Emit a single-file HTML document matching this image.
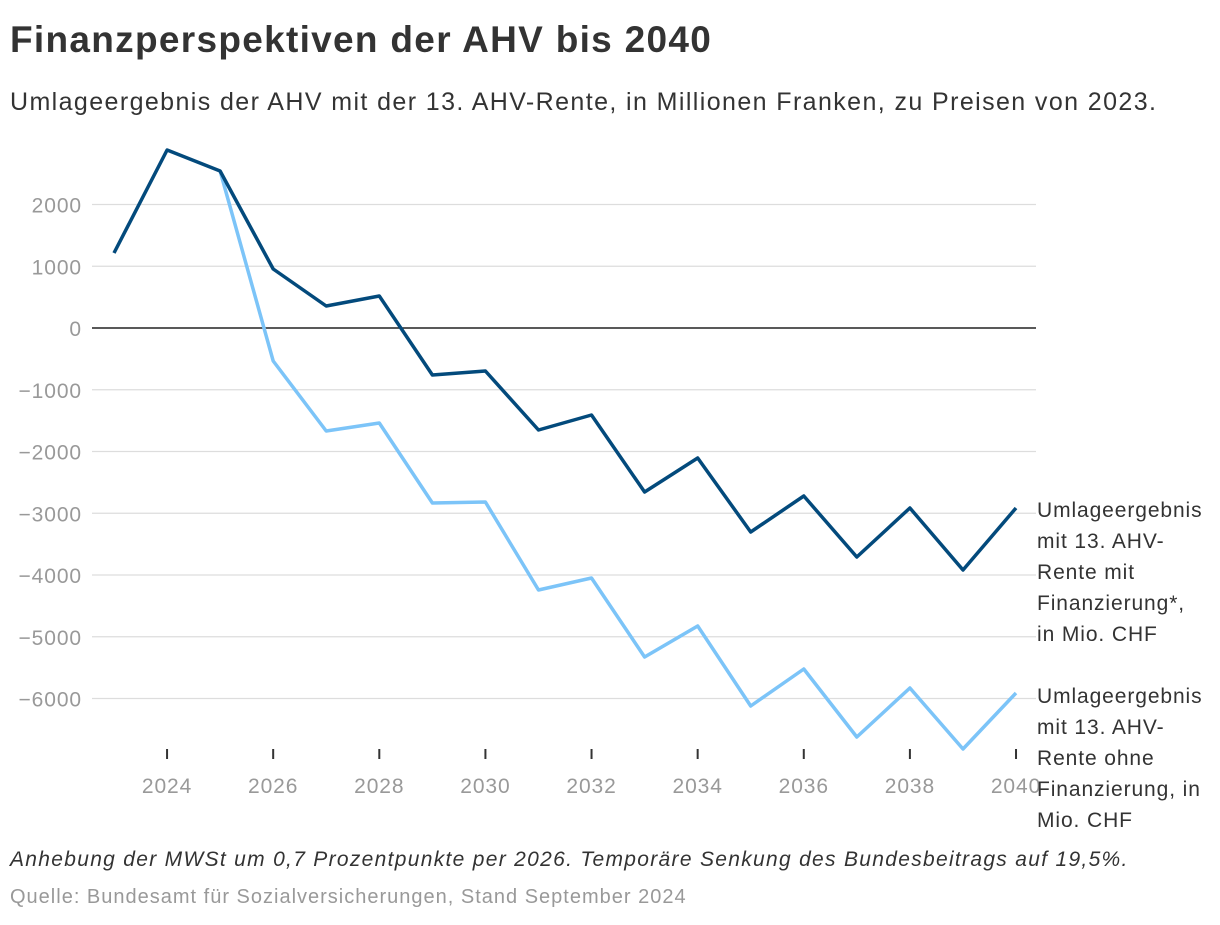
<!DOCTYPE html>
<html><head><meta charset="utf-8"><style>
body{margin:0;width:1220px;height:920px;background:#fff;font-family:"Liberation Sans",sans-serif;overflow:hidden}
</style></head><body>
<svg width="1220" height="920" xmlns="http://www.w3.org/2000/svg">
<text x="10" y="52" font-size="37" font-weight="bold" fill="#333" letter-spacing="1.3">Finanzperspektiven der AHV bis 2040</text>
<text x="10" y="110" font-size="25" fill="#333" letter-spacing="1.4">Umlageergebnis der AHV mit der 13. AHV-Rente, in Millionen Franken, zu Preisen von 2023.</text>
<g id="grid"></g><g id="yt"></g><g id="xt"></g><g id="lines"></g>
<text font-size="21" fill="#333" letter-spacing="0.9"><tspan x="1037" y="517">Umlageergebnis</tspan><tspan x="1037" y="548">mit 13. AHV-</tspan><tspan x="1037" y="579">Rente mit</tspan><tspan x="1037" y="610">Finanzierung*,</tspan><tspan x="1037" y="641">in Mio. CHF</tspan></text>
<text font-size="21" fill="#333" letter-spacing="0.9"><tspan x="1037" y="703">Umlageergebnis</tspan><tspan x="1037" y="734">mit 13. AHV-</tspan><tspan x="1037" y="765">Rente ohne</tspan><tspan x="1037" y="796">Finanzierung, in</tspan><tspan x="1037" y="827">Mio. CHF</tspan></text>
<text x="10" y="866" font-size="21" font-style="italic" fill="#333" letter-spacing="1.3">Anhebung der MWSt um 0,7 Prozentpunkte per 2026. Temporäre Senkung des Bundesbeitrags auf 19,5%.</text>
<text x="10" y="903" font-size="20" fill="#999" letter-spacing="1">Quelle: Bundesamt für Sozialversicherungen, Stand September 2024</text>
</svg>
<script>
const years=[2023,2024,2025,2026,2027,2028,2029,2030,2031,2032,2033,2034,2035,2036,2037,2038,2039,2040];
const mitFin=[1215,2883,2543,955,356,518,-761,-696,-1652,-1409,-2656,-2105,-3304,-2721,-3709,-2915,-3919,-2915];
const ohneFin=[null,null,2543,-534,-1668,-1538,-2834,-2818,-4243,-4049,-5328,-4826,-6121,-5522,-6623,-5830,-6818,-5911];
const yTicks=[2000,1000,0,-1000,-2000,-3000,-4000,-5000,-6000];
const xTicks=[2024,2026,2028,2030,2032,2034,2036,2038,2040];
const NS="http://www.w3.org/2000/svg";
const x=v=>114+(v-2023)*53.06;
const y=v=>328-v*0.06175;
function mk(t,a,p){const e=document.createElementNS(NS,t);for(const k in a)e.setAttribute(k,a[k]);document.getElementById(p).appendChild(e);return e;}
yTicks.forEach(v=>{
 const l=mk('line',{x1:92,x2:1036,y1:y(v),y2:y(v),stroke:v===0?'#222':'#ddd','stroke-width':v===0?1.5:1.2},'grid');
 
 
 const t=mk('text',{x:82,y:y(v)+8,'text-anchor':'end','font-size':21,fill:'#999','letter-spacing':0.9},'yt');
 t.textContent=String(v).replace('-','−');
 
 
});
xTicks.forEach(v=>{
 const l=mk('line',{x1:x(v),x2:x(v),y1:749,y2:759,stroke:'#333','stroke-width':2},'xt');
 
 
 const t=mk('text',{x:x(v),y:793,'text-anchor':'middle','font-size':21,fill:'#999','letter-spacing':0.9},'xt');
 t.textContent=v;
 
 
});
function path(vals){let d='';vals.forEach((v,i)=>{if(v===null)return;d+=(d?'L':'M')+x(years[i]).toFixed(1)+','+y(v).toFixed(1);});return d;}
const p2=mk('path',{d:path(ohneFin),fill:'none',stroke:'#7cc4f8','stroke-width':3.5,'stroke-linejoin':'round'},'lines');


const p1=mk('path',{d:path(mitFin),fill:'none',stroke:'#034a7c','stroke-width':3.5,'stroke-linejoin':'round'},'lines');


</script>
</body></html>
